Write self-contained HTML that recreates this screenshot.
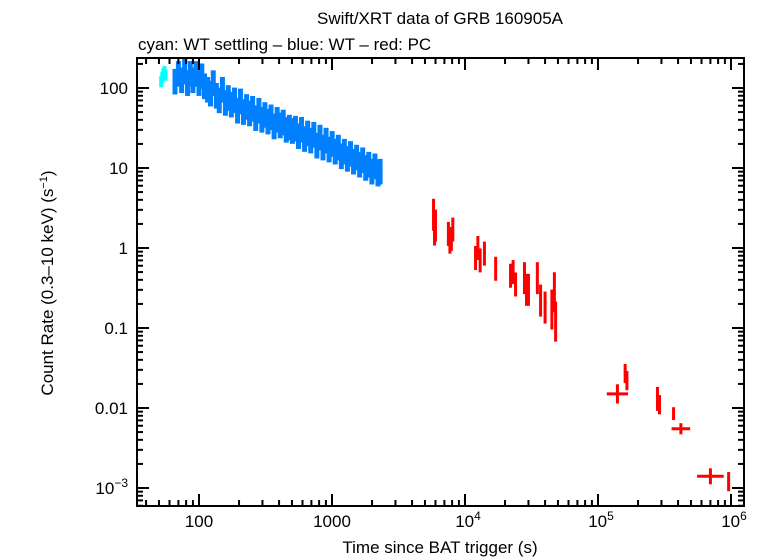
<!DOCTYPE html>
<html><head><meta charset="utf-8"><style>
body{margin:0;background:#fff;}
svg{display:block;font-family:"Liberation Sans",sans-serif;}
</style></head><body>
<svg id="c" width="761" height="558">
<text x="440" y="24" font-size="17" text-anchor="middle">Swift/XRT data of GRB 160905A</text>
<text x="138" y="50" font-size="17">cyan: WT settling – blue: WT – red: PC</text>
<text x="440" y="553" font-size="17" text-anchor="middle">Time since BAT trigger (s)</text>
<text transform="translate(53,283) rotate(-90)" font-size="17" text-anchor="middle">Count Rate (0.3–10 keV) (s<tspan dy="-6" font-size="11">−1</tspan><tspan dy="6">)</tspan></text>
<g id="marks"></g>
<rect x="137" y="58" width="607" height="448" fill="none" stroke="#000" stroke-width="2"/>
<g id="axes"></g>
</svg>
<script>
const cyanT=[52,53,54,55,56];
const cyanR=[120,135,150,160,145];
const blueT=[66,70,74,78,82,86,90,95,100,105,110,116,122,128,135,142,150,158,166,175,185,195,205,216,228,240,253,267,282,297,313,330,348,367,387,408,430,453,478,504,531,560,590,622,656,692,730,770,812,856,902,951,1003,1057,1115,1175,1239,1306,1377,1452,1531,1614,1702,1794,1892,1995,2103,2217,2300];
const blueR=[120,150,125,160,115,150,125,150,115,140,105,95,85,115,80,70,95,65,75,62,70,52,68,50,58,48,55,42,52,40,46,38,43,33,40,34,37,30,32,29,31,25,30,23,27,22,26,19,24,18,22,17,20,16,18,14,16,13,15,12,13.5,11,12.5,10,11,9,10.5,8.5,9];
const redT=[5800,5900,6000,7500,7700,7900,8100,12000,12500,13000,14000,17000,22000,23000,24000,28000,29000,30000,35000,37000,40000,45000,47000,48000,140000,160000,165000,280000,290000,370000,420000,700000,960000];
const redR=[2.6,1.7,1.9,1.5,1.2,1.3,1.7,0.75,1.0,0.7,0.85,0.55,0.45,0.5,0.35,0.42,0.3,0.3,0.42,0.22,0.18,0.17,0.28,0.12,0.015,0.027,0.022,0.013,0.011,0.0085,0.0055,0.0014,0.0012];
const redXE=[0.005,0.005,0.005,0.005,0.005,0.005,0.005,0.005,0.005,0.005,0.005,0.005,0.005,0.005,0.005,0.005,0.005,0.005,0.005,0.005,0.005,0.005,0.005,0.005,0.08,0.01,0.01,0.01,0.01,0.01,0.07,0.1,0.005];
const redYE=[0.2,0.2,0.2,0.15,0.15,0.15,0.15,0.15,0.15,0.15,0.15,0.15,0.15,0.15,0.15,0.2,0.2,0.2,0.2,0.2,0.2,0.25,0.25,0.25,0.12,0.12,0.12,0.15,0.12,0.08,0.07,0.1,0.12];
const xTicks=[100,1000,1e4,1e5,1e6];
const xLabels=["100","1000","10^4","10^5","10^6"];
const yTicks=[1e-3,0.01,0.1,1,10,100];
const yLabels=["10^-3","0.01","0.1","1","10","100"];
const X=t=>199+(Math.log10(t)-2)*133;
const Y=r=>488-(Math.log10(r)+3)*80;
const NS="http://www.w3.org/2000/svg";
const marks=document.getElementById('marks'),axes=document.getElementById('axes');
function ln(g,x1,y1,x2,y2,c,w){const l=document.createElementNS(NS,'line');l.setAttribute('x1',x1);l.setAttribute('y1',y1);l.setAttribute('x2',x2);l.setAttribute('y2',y2);l.setAttribute('stroke',c);l.setAttribute('stroke-width',w);g.appendChild(l);return l;}
function pt(t,r,xe,ye,c,name,w){const g=document.createElementNS(NS,'g');


const lt=Math.log10(t),lr=Math.log10(r);
ln(g,X(Math.pow(10,lt-xe)),Y(r),X(Math.pow(10,lt+xe)),Y(r),c,3);
ln(g,X(t),Y(Math.pow(10,lr-ye)),X(t),Y(Math.pow(10,lr+ye)),c,w);
marks.appendChild(g);}
cyanT.forEach((t,i)=>pt(t,cyanR[i],0.004,0.07,'#00ffff','wt-settling-point',4));
blueT.forEach((t,i)=>pt(t,blueR[i],0.013,0.16,'#0080ff','wt-point',5));
redT.forEach((t,i)=>pt(t,redR[i],redXE[i],redYE[i],'#ff0000','pc-point',3));
function lab(x,y,s,anchor){const tx=document.createElementNS(NS,'text');tx.setAttribute('x',x);tx.setAttribute('y',y);tx.setAttribute('font-size','17');tx.setAttribute('text-anchor',anchor);
const m=s.match(/^10\^(.*)$/);
if(m){tx.appendChild(document.createTextNode('10'));const sp=document.createElementNS(NS,'tspan');sp.setAttribute('dy','-7');sp.setAttribute('font-size','12');sp.textContent=m[1].replace('-','−');tx.appendChild(sp);}else tx.textContent=s;
axes.appendChild(tx);return tx;}
for(let d=1;d<=1e6;d*=10){for(let k=1;k<10;k++){const t=d*k;const x=X(t);if(x<137||x>744)continue;const L=k==1?12:6;ln(axes,x,506,x,506-L,'#000',2);ln(axes,x,58,x,58+L,'#000',2);}}
for(let d=1e-4;d<=1000;d*=10){for(let k=1;k<10;k++){const r=d*k;const y=Y(r);if(y<58||y>506)continue;const L=k==1?12:6;ln(axes,137,y,137+L,y,'#000',2);ln(axes,744,y,744-L,y,'#000',2);}}
xTicks.forEach((t,i)=>{const e=lab(X(t)+(xLabels[i].includes('^')?3:0),527,xLabels[i],'middle');

});
yTicks.forEach((r,i)=>{const e=lab(128,Y(r)+6,yLabels[i],'end');

});
</script>
</body></html>
